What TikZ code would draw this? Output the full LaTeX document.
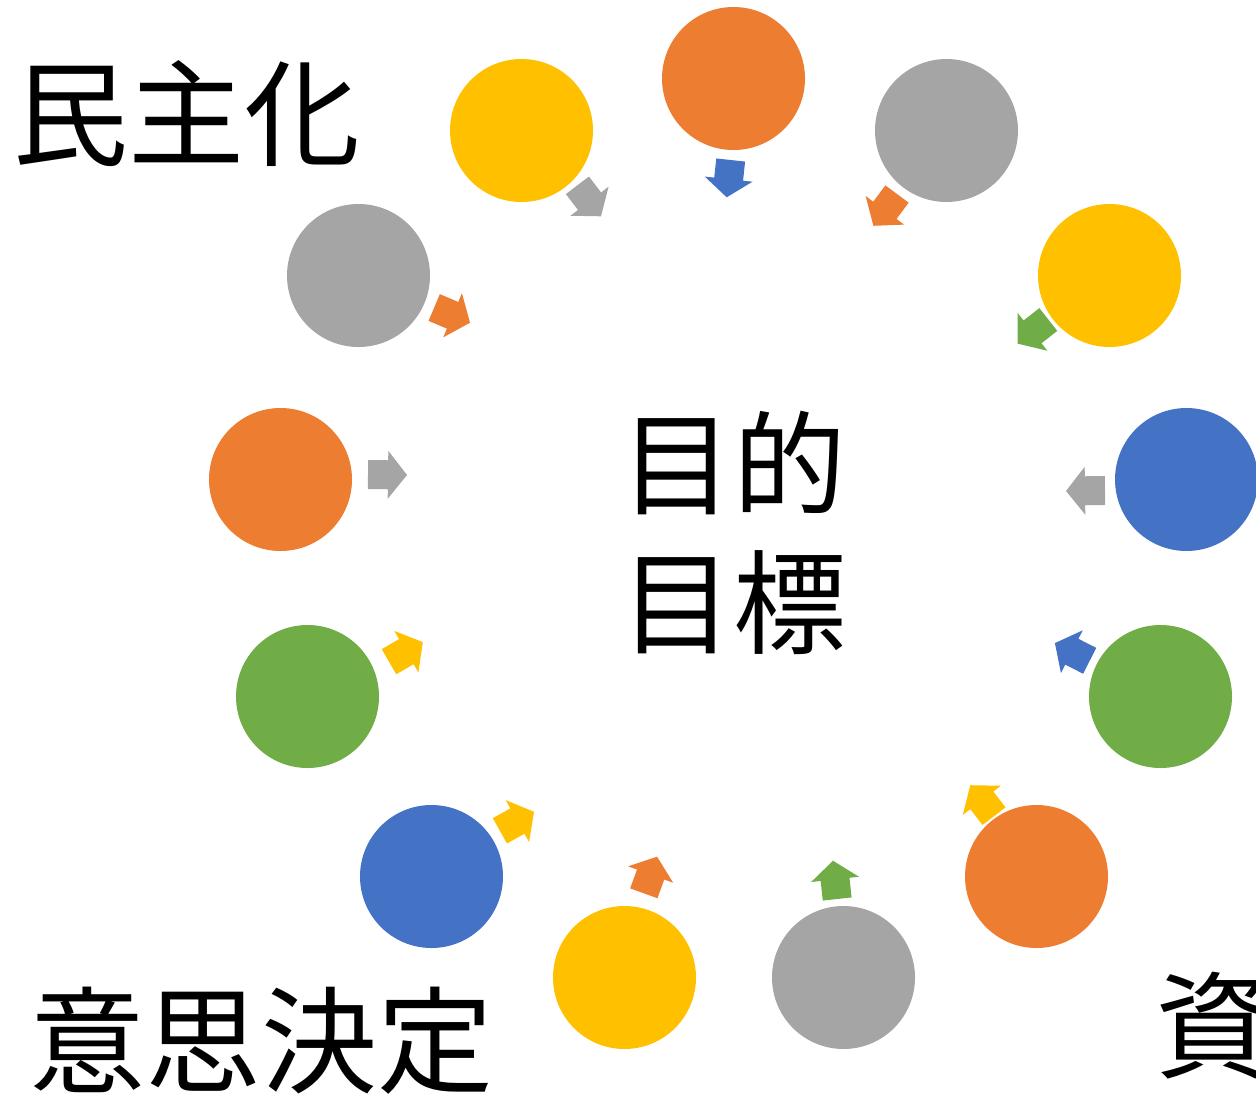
\documentclass[tikz,border=0pt]{standalone}
\usepackage{fontspec}
\newfontfamily\cjk{Noto Sans CJK JP}
\usetikzlibrary{calc}
\definecolor{cOrange}{HTML}{ED7D31}
\definecolor{cGray}{HTML}{A5A5A5}
\definecolor{cYellow}{HTML}{FFC000}
\definecolor{cBlue}{HTML}{4472C4}
\definecolor{cGreen}{HTML}{70AD47}
\tikzset{
  ball/.style={circle, minimum size=143pt, inner sep=0pt, draw=none, fill=#1},
  bigtext/.style={font=\cjk\fontsize{116}{140}\selectfont, inner sep=0pt, anchor=base west},
  midtext/.style={font=\cjk\fontsize{113}{140}\selectfont, inner sep=0pt, anchor=base},
}
% block arrow: #1 tail-middle, #2 tip, #3 colour
\newcommand\blockarr[3]{%
  \coordinate (bT) at #1; \coordinate (bP) at #2;
  \coordinate (bS) at ($(bT)!0.513!(bP)$);
  \fill[#3] ($(bT)!14.5pt!90:(bP)$) -- ($(bS)!14.5pt!90:(bP)$) -- ($(bS)!24pt!90:(bP)$) -- (bP)
    -- ($(bS)!24pt!-90:(bP)$) -- ($(bS)!14.5pt!-90:(bP)$) -- ($(bT)!14.5pt!-90:(bP)$) -- cycle;}
\begin{document}
\begin{tikzpicture}[x=1pt,y=-1pt]
\useasboundingbox (0,0) rectangle (1256,1096);
\clip (0,0) rectangle (1256,1096);
% circles
\node[ball=cOrange] (c1) at (733.5,78.5) {};
\node[ball=cGray]   (c2) at (946.5,130.5) {};
\node[ball=cYellow] (c3) at (1109.5,275.5) {};
\node[ball=cBlue]   (c4) at (1186.5,479.5) {};
\node[ball=cGreen]  (c5) at (1160.5,696.5) {};
\node[ball=cOrange] (c6) at (1036.5,876.5) {};
\node[ball=cGray]   (c7) at (843.5,977.5) {};
\node[ball=cYellow] (c8) at (624.5,977.5) {};
\node[ball=cBlue]   (c9) at (431.5,876.5) {};
\node[ball=cGreen]  (c10) at (307.5,696.5) {};
\node[ball=cOrange] (c11) at (280.5,479.5) {};
\node[ball=cGray]   (c12) at (358.5,275.5) {};
\node[ball=cYellow] (c13) at (521.5,130.5) {};
% arrows
\blockarr{(577.4,185.3)}{(601,216.3)}{cGray}
\blockarr{(730.7,160)}{(726.7,197.3)}{cBlue}
\blockarr{(897,194)}{(873.4,225.8)}{cOrange}
\blockarr{(1048.3,319.5)}{(1017.6,343.6)}{cGreen}
\blockarr{(1105,490.5)}{(1066,491)}{cGray}
\blockarr{(1089.7,660.8)}{(1054.9,643.1)}{cBlue}
\blockarr{(994,816.2)}{(970.3,785.2)}{cYellow}
\blockarr{(837.2,899)}{(833,860.7)}{cGreen}
\blockarr{(643.8,893.3)}{(657.1,856.7)}{cOrange}
\blockarr{(499.9,830.8)}{(534,811.8)}{cYellow}
\blockarr{(389,661.7)}{(422.8,642.1)}{cYellow}
\blockarr{(368,474.5)}{(407,475)}{cGray}
\blockarr{(434.2,307.5)}{(470,322.7)}{cOrange}
% texts
\node[midtext] (t1) at (733,506) {目的};
\node[midtext] (t2) at (733,645) {目標};
\node[bigtext] (t3) at (12,157) {民主化};
\node[bigtext] (t4) at (29,1084) {意思決定};
\node[bigtext] (t5) at (1155,1069) {資};
\end{tikzpicture}
\end{document}
